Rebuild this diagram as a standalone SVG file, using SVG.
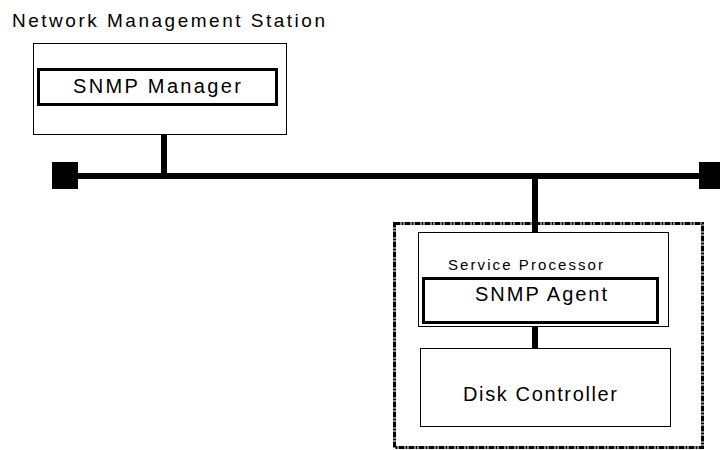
<svg xmlns="http://www.w3.org/2000/svg" width="720" height="450" viewBox="0 0 720 450">
<style>
text{font-family:"Liberation Sans",Arial,sans-serif;fill:#000}
.thin{fill:#fff;stroke:#000;stroke-width:1}
.thick{fill:#fff;stroke:#000;stroke-width:3}
.wire{stroke:#000;stroke-width:6;fill:none}
</style>
<rect width="720" height="450" fill="#fff"/>
<text x="12" y="27" font-size="19" textLength="313" lengthAdjust="spacing">Network Management Station</text>
<g id="station">
<rect class="thin" x="33.5" y="43.5" width="253" height="91"/>
</g>
<g id="snmp-manager">
<rect class="thick" x="38.5" y="69.5" width="238" height="35"/>
<text x="73" y="93" font-size="20" textLength="168" lengthAdjust="spacing">SNMP Manager</text>
</g>
<g id="connectors">
<line class="wire" x1="164" y1="135" x2="164" y2="176"/>
<line class="wire" x1="78" y1="176" x2="699" y2="176"/>
<rect x="52" y="162" width="26" height="27" fill="#000"/>
<rect x="699" y="162" width="26" height="27" fill="#000"/>
<line class="wire" x1="535" y1="176" x2="535" y2="233"/>
<line class="wire" x1="535" y1="323" x2="535" y2="348"/>
</g>
<g id="enclosure">
<rect x="394.5" y="223.5" width="308" height="224" fill="none" stroke="#000" stroke-width="3" stroke-dasharray="6 1 2 1"/>
</g>
<g id="service-processor">
<rect class="thin" x="418.5" y="232.5" width="250" height="94"/>
<text x="448" y="270" font-size="15" textLength="155" lengthAdjust="spacing">Service Processor</text>
</g>
<g id="snmp-agent">
<rect class="thick" x="423.5" y="278.5" width="234" height="44"/>
<text x="475" y="301" font-size="20" textLength="132" lengthAdjust="spacing">SNMP Agent</text>
</g>
<g id="disk-controller">
<rect class="thin" x="420.5" y="348.5" width="250" height="78"/>
<text x="463" y="401" font-size="20" textLength="154" lengthAdjust="spacing">Disk Controller</text>
</g>
</svg>
